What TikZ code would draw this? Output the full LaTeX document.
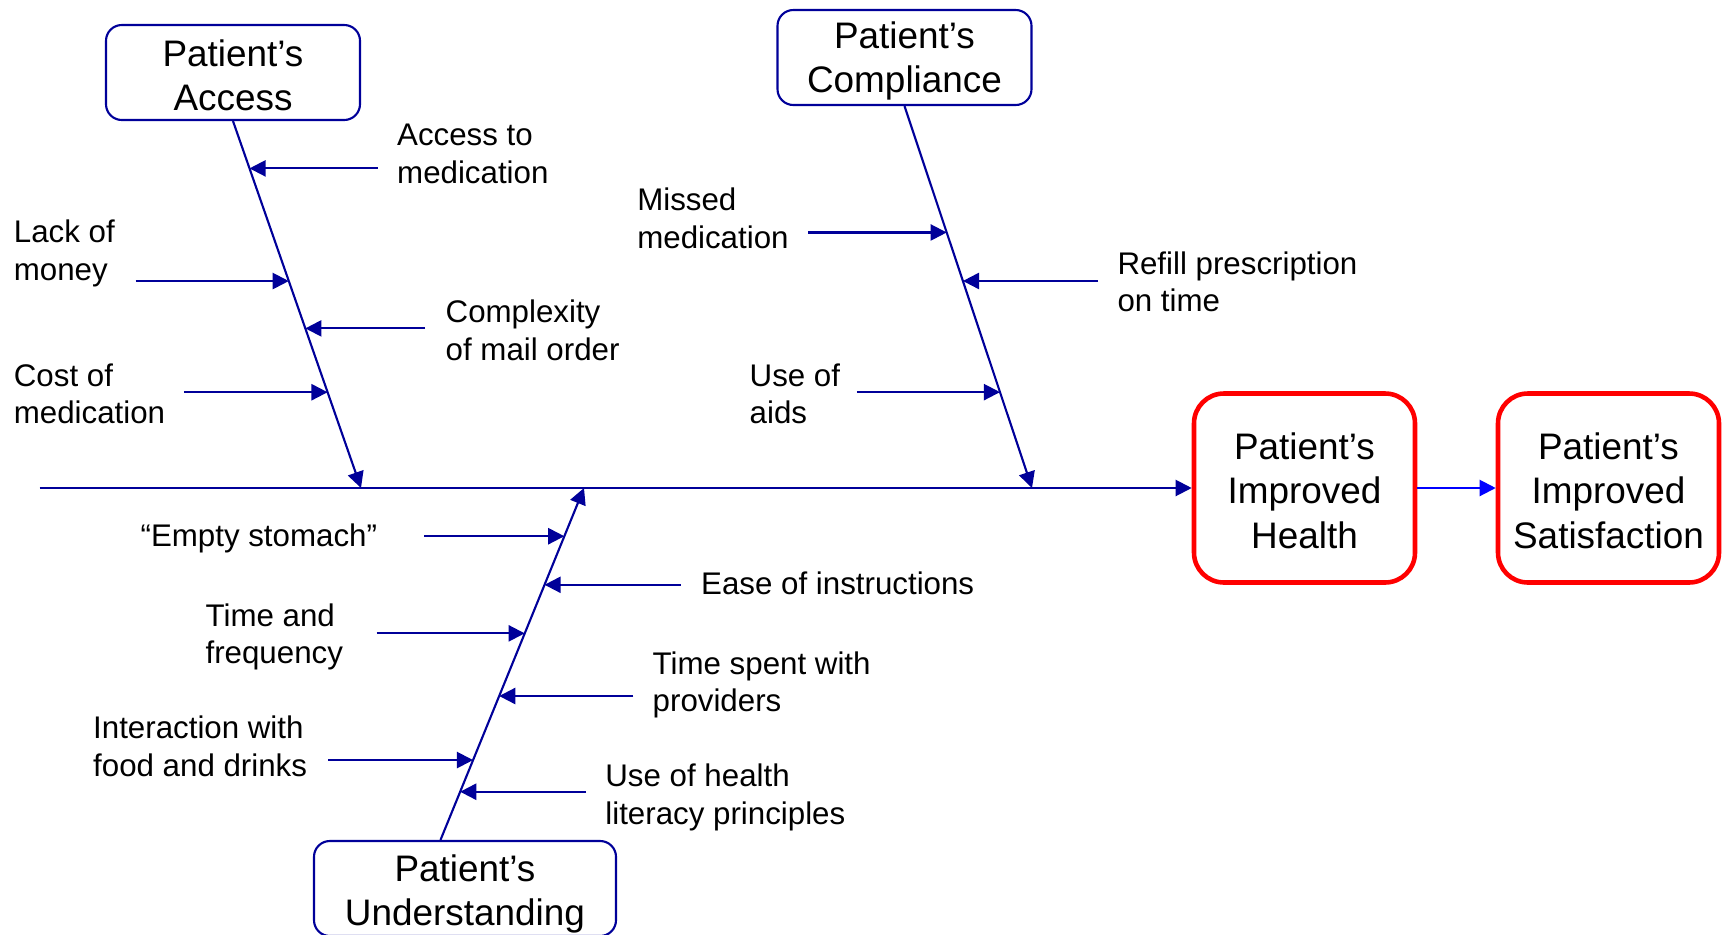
\documentclass[tikz,border=0pt]{standalone}
\usepackage{fontspec}
\setmainfont{Liberation Sans}
\usetikzlibrary{calc,arrows.meta}
\definecolor{bonecol}{RGB}{0,0,153}
\definecolor{linkcol}{RGB}{0,0,255}
\tikzset{
  catbox/.style={draw=bonecol,line width=0.6pt,rounded corners=4.5pt,minimum width=25.4mm,minimum height=9.5mm,
    inner sep=0pt,align=center,text height=22pt,font=\fontsize{10.5}{12.7}\selectfont},
  effbox/.style={draw=red,line width=1.3pt,rounded corners=8.5pt,minimum width=22.1mm,minimum height=18.9mm,
    inner sep=0pt,align=center,text height=34.6pt,font=\fontsize{10.5}{12.7}\selectfont},
  lbl/.style={anchor=west,align=left,inner sep=0pt,font=\fontsize{8.9}{10.7}\selectfont},
  bone/.style={draw=bonecol,line width=0.6pt,-{Triangle[length=4.6pt,width=4.6pt]}},
}
\begin{document}
\begin{tikzpicture}[x=0.1mm,y=-0.1mm]
\useasboundingbox (0,0) rectangle (1727,934);
% categories and effects
\node[catbox] (access) at (233,72.5) {Patient’s\\Access};
\node[catbox,text height=22.2pt] (compl) at (904.5,57.5) {Patient’s\\Compliance};
\node[catbox,minimum width=30.2mm,text height=23.4pt] (under) at (465,888.5) {Patient’s\\Understanding};
\node[effbox] (health) at (1304.5,488) {Patient’s\\Improved\\Health};
\node[effbox] (satis) at (1608.5,488) {Patient’s\\Improved\\Satisfaction};
% spine
\coordinate (head) at (39.6,488);
\coordinate (accroot) at (361,488);
\coordinate (comroot) at (1032,488);
\coordinate (undroot) at (584,488);
\coordinate (unbase) at ([xshift=-2.45mm]under.north);
\draw[bone] (head)--(health.west);
\draw[bone,draw=linkcol,fill=linkcol] (health.east)--(satis.west);
% main bones
\draw[bone] (access.south)--(accroot);
\draw[bone] (compl.south)--(comroot);
\draw[bone] (unbase)--(undroot);
% causes: position along the bone / start x of the arrow
\foreach \n/\p/\x in {1/.129/377.8,2/.436/135.5,3/.565/425.1,4/.739/183.9}
  {\coordinate (ac\n) at ($(access.south)!\p!(accroot)$);\draw[bone] (ac\n -| \x,0)--(ac\n);}
\foreach \n/\p/\x in {1/.331/808.4,2/.458/1098,3/.749/856.9}
  {\coordinate (co\n) at ($(compl.south)!\p!(comroot)$);\draw[bone] (co\n -| \x,0)--(co\n);}
\foreach \n/\p/\x in {1/.863/424,2/.725/680.7,3/.587/376.7,4/.409/633.3,5/.227/328.2,6/.137/586}
  {\coordinate (un\n) at ($(unbase)!\p!(undroot)$);\draw[bone] (un\n -| \x,0)--(un\n);}
% labels
\node[lbl] (l1) at (396.5,154) {Access to\\medication};
\node[lbl] (l2) at (13.2,253.3) {Lack of\\money};
\node[lbl] (l3) at (445,330.4) {Complexity\\of mail order};
\node[lbl] (l4) at (13.2,393.7) {Cost of\\medication};
\node[lbl] (l5) at (636.6,218.5) {Missed\\medication};
\node[lbl] (l6) at (1116.8,282) {Refill prescription\\on time};
\node[lbl] (l7) at (749,393.7) {Use of\\aids};
\node[lbl] (l8) at (139.9,538.6) {“Empty stomach”};
\node[lbl] (l9) at (700.5,583.8) {Ease of instructions};
\node[lbl] (l10) at (204.9,637) {Time and\\frequency};
\node[lbl] (l11) at (652,684.8) {Time spent with\\providers};
\node[lbl] (l12) at (92.5,746.3) {Interaction with\\food and drinks};
\node[lbl] (l13) at (604.7,797.4) {Use of health\\literacy principles};
\end{tikzpicture}
\end{document}
